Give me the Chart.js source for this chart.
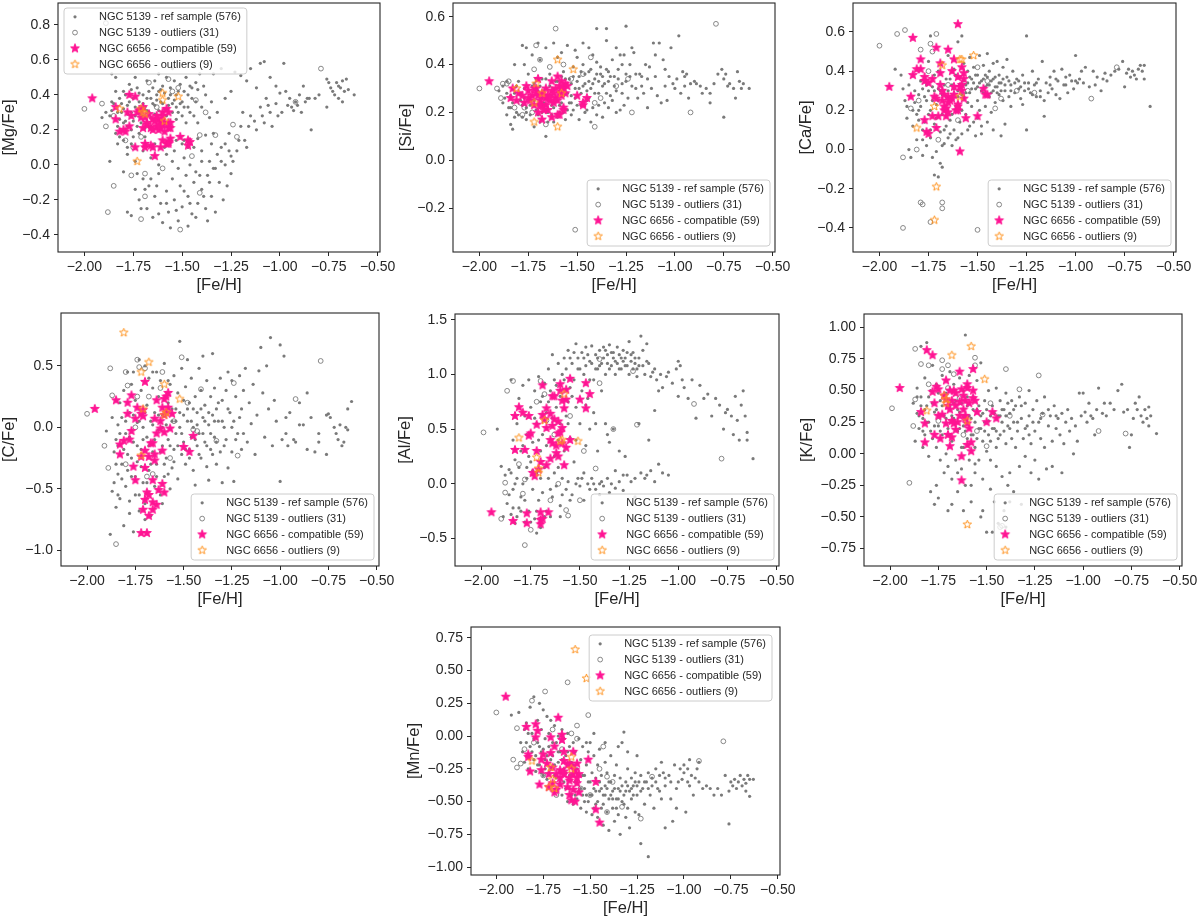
<!DOCTYPE html>
<html>
<head>
<meta charset="utf-8">
<script src="https://cdn.jsdelivr.net/npm/chart.js@4.4.1/dist/chart.umd.min.js"></script>
<style>
  html, body { margin: 0; padding: 0; background: #fff; }
  body { position: relative; width: 1200px; height: 918px; overflow: hidden; }
  .panel { position: absolute; }
</style>
</head>
<body>
<script>
// legend labels, shared by every panel
const seriesNames = [
    'NGC 5139 - ref sample (576)',
    'NGC 5139 - outliers (31)',
    'NGC 6656 - compatible (59)',
    'NGC 6656 - outliers (9)'
];

// tick values
const feTicks = [-2.0, -1.75, -1.5, -1.25, -1.0, -0.75, -0.5];
const mgTicks = [-0.4, -0.2, 0, 0.2, 0.4, 0.6, 0.8];
const siTicks = [-0.2, 0, 0.2, 0.4, 0.6];
const caTicks = [-0.4, -0.2, 0, 0.2, 0.4, 0.6];
const cTicks = [-1.0, -0.5, 0, 0.5];
const alTicks = [-0.5, 0, 0.5, 1.0, 1.5];
const kTicks = [-0.75, -0.5, -0.25, 0, 0.25, 0.5, 0.75, 1.0];
const mnTicks = [-1.0, -0.75, -0.5, -0.25, 0, 0.25, 0.5, 0.75];

// ---- [Mg/Fe] vs [Fe/H] ----
const mgRef = [[-1.87,0.28],[-1.85,0.35],[-1.84,0.50],[-1.83,0.22],[-1.82,0.38],[-1.81,0.30],[-1.80,0.42],[-1.79,0.25],[-1.78,0.34],[-1.77,0.46],[-1.76,0.20],[-1.75,0.38],[-1.74,0.28],[-1.73,0.44],[-1.72,0.36],[-1.71,0.24],[-1.70,0.40],[-1.69,0.33],[-1.68,0.48],[-1.67,0.30],[-1.66,0.38],[-1.65,0.44],[-1.64,0.34],[-1.63,0.40],[-1.62,0.52],[-1.61,0.36],[-1.60,0.45],[-1.59,0.32],[-1.58,0.50],[-1.57,0.38],[-1.56,0.44],[-1.55,0.35],[-1.54,0.48],[-1.53,0.40],[-1.52,0.30],[-1.51,0.46],[-1.50,0.36],[-1.49,0.42],[-1.48,0.50],[-1.47,0.33],[-1.46,0.45],[-1.45,0.38],[-1.44,0.28],[-1.43,0.47],[-1.42,0.43],[-1.40,0.33],[-1.39,0.45],[-1.38,0.40],[-1.41,0.52],[-1.44,0.56],[-1.55,0.55],[-1.64,0.48],[-1.74,0.50],[-1.80,0.32],[-1.86,0.31],[-1.89,0.30],[-1.91,0.27],[-1.82,0.26],[-1.76,0.30],[-1.70,0.28],[-1.66,0.22],[-1.60,0.30],[-1.53,0.26],[-1.48,0.24],[-1.62,0.42],[-1.68,0.38],[-1.72,0.32],[-1.78,0.22],[-1.84,0.18],[-1.80,0.14],[-1.76,0.12],[-1.72,0.18],[-1.86,0.52],
    [-1.83,0.12],[-1.78,0.06],[-1.74,0.02],[-1.70,0.08],[-1.66,0.04],[-1.62,0.00],[-1.58,0.06],[-1.55,0.02],[-1.52,-0.02],[-1.49,0.04],[-1.46,0.00],[-1.43,-0.04],[-1.40,0.02],[-1.37,-0.06],[-1.47,0.10],[-1.42,0.15],[-1.38,0.17],[-1.35,0.12],[-1.32,0.06],[-1.30,0.10],[-1.28,0.00],[-1.33,-0.02],[-1.25,0.05],[-1.50,0.12],[-1.87,0.02],[-1.53,0.14],
    [-1.80,-0.04],[-1.78,-0.27],[-1.76,-0.29],[-1.74,-0.14],[-1.72,-0.20],[-1.70,-0.08],[-1.68,-0.25],[-1.67,-0.12],[-1.65,-0.30],[-1.64,-0.18],[-1.62,-0.05],[-1.61,-0.22],[-1.60,-0.33],[-1.58,-0.15],[-1.57,-0.27],[-1.55,-0.08],[-1.54,-0.20],[-1.52,-0.32],[-1.51,-0.12],[-1.50,-0.24],[-1.48,-0.06],[-1.47,-0.18],[-1.45,-0.28],[-1.44,-0.10],[-1.42,-0.22],[-1.40,-0.14],[-1.38,-0.25],[-1.37,-0.32],[-1.35,-0.18],[-1.33,-0.27],[-1.31,-0.10],[-1.29,-0.20],[-1.27,-0.12],[-1.25,-0.05],[-1.62,-0.28],[-1.56,-0.36],[-1.69,-0.14],[-1.73,-0.05],[-1.47,-0.35],
    [-1.28,0.12],[-1.26,0.18],[-1.24,0.02],[-1.22,0.08],[-1.20,0.22],[-1.18,0.14],[-1.17,0.10],[-1.15,0.28],[-1.13,0.25],[-1.12,0.20],[-1.10,0.33],[-1.08,0.24],[-1.07,0.38],[-1.05,0.30],[-1.04,0.22],[-1.02,0.35],[-1.00,0.41],[-0.99,0.30],[-0.97,0.42],[-0.95,0.38],[-0.94,0.33],[-0.92,0.36],[-0.90,0.40],[-0.88,0.45],[-0.87,0.36],[-0.85,0.38],[-0.84,0.20],[-1.20,0.51],[-1.15,0.55],[-1.10,0.58],[-1.08,0.59],[-1.05,0.50],[-1.02,0.45],[-0.98,0.58],[-0.96,0.34],[-0.93,0.31],[-1.12,0.44],[-1.17,0.48],[-1.23,0.53],[-1.30,0.55],[-1.34,0.52],[-1.28,0.38],[-1.25,0.42],[-1.35,0.36],[-1.32,0.30],[-1.19,0.30],[-1.42,0.24],[-1.36,0.27],
    [-0.76,0.49],[-0.75,0.47],[-0.74,0.44],[-0.73,0.42],[-0.72,0.40],[-0.71,0.47],[-0.70,0.45],[-0.69,0.44],[-0.68,0.48],[-0.67,0.42],[-0.66,0.49],[-0.65,0.43],[-0.62,0.40],[-0.76,0.33],[-0.70,0.38],[-0.68,0.36],[-0.82,0.38],[-0.80,0.40],[-0.86,0.38],
    [-1.86,0.36],[-1.84,0.42],[-1.83,0.30],[-1.81,0.35],[-1.80,0.24],[-1.79,0.40],[-1.78,0.29],[-1.77,0.36],[-1.76,0.43],[-1.75,0.25],[-1.74,0.33],[-1.73,0.22],[-1.72,0.41],[-1.71,0.29],[-1.70,0.35],[-1.69,0.21],[-1.68,0.31],[-1.67,0.42],[-1.66,0.27],[-1.65,0.35],[-1.64,0.29],[-1.63,0.37],[-1.62,0.31],[-1.61,0.43],[-1.60,0.35],[-1.59,0.41],[-1.58,0.28],[-1.57,0.34],[-1.56,0.40],[-1.55,0.30],[-1.54,0.37],[-1.53,0.33],[-1.52,0.42],[-1.51,0.35],[-1.50,0.28],[-1.49,0.33],[-1.47,0.40],[-1.46,0.30],[-1.45,0.44],[-1.43,0.36],[-1.82,0.16],[-1.78,0.10],[-1.75,0.16],[-1.69,0.16],[-1.64,0.12],[-1.59,0.10],[-1.54,0.08],[-1.49,0.14],[-1.44,0.10],[-1.40,0.08],[-1.36,0.02],[-1.34,0.18],[-1.58,-0.22],[-1.53,-0.26],[-1.49,-0.15],[-1.46,-0.22],[-1.43,-0.30],[-1.41,-0.06],[-1.39,-0.18],[-1.36,-0.10],[-1.66,-0.08],[-1.71,-0.25],[-1.63,-0.12],[-1.34,-0.02],[-1.30,0.02],[-1.26,0.08],[-1.21,0.14],[-1.16,0.22],[-1.09,0.28],[-1.06,0.34],[-1.01,0.28],[-0.91,0.34],[-0.89,0.30]];
const mgOut = [[-2.00,0.32],[-1.91,0.35],[-1.89,0.22],[-1.89,0.81],[-1.88,-0.27],[-1.85,-0.12],[-1.79,0.14],[-1.76,-0.06],[-1.71,-0.31],[-1.69,-0.05],[-1.69,-0.18],[-1.57,0.49],[-1.43,0.37],[-1.51,-0.37],[-1.41,-0.16],[-1.41,0.17],[-1.33,0.17],[-1.24,0.23],[-1.22,0.16],[-0.92,0.36],[-0.79,0.55],[-1.67,0.47],[-1.55,0.42],[-1.63,0.33],[-1.75,0.10],[-1.60,-0.02],[-1.45,0.05],[-1.38,0.30],[-1.85,0.28],[-1.71,0.16],[-1.52,0.44]];
const mgStar = [[-1.96,0.38],[-1.84,0.33],[-1.84,0.26],[-1.82,0.19],[-1.79,0.19],[-1.77,0.40],[-1.74,0.39],[-1.78,0.30],[-1.76,0.28],[-1.77,0.22],[-1.74,0.10],[-1.70,0.21],[-1.71,0.31],[-1.71,0.27],[-1.69,0.27],[-1.69,0.12],[-1.69,0.10],[-1.66,0.21],[-1.65,0.26],[-1.65,0.10],[-1.63,0.22],[-1.62,0.26],[-1.64,0.05],[-1.61,0.10],[-1.61,0.21],[-1.61,0.25],[-1.60,0.30],[-1.59,0.24],[-1.58,0.32],[-1.57,0.21],[-1.58,0.12],[-1.57,0.13],[-1.57,0.30],[-1.56,0.21],[-1.56,0.15],[-1.57,0.12],[-1.60,0.14],[-1.51,0.16],[-1.47,0.14],[-1.46,0.13],[-1.47,0.11],[-1.68,0.23],[-1.67,0.29],[-1.72,0.31],[-1.62,0.20],[-1.60,0.23],[-1.64,0.25],[-1.70,0.33],[-1.59,0.19],[-1.66,0.11],[-1.80,0.20],[-1.62,0.22],[-1.57,0.24],[-1.68,0.24],[-1.60,0.28],[-1.73,0.30],[-1.56,0.24],[-1.65,0.20],[-1.63,0.28]];
const mgOdd = [[-1.82,0.32],[-1.73,0.02],[-1.71,0.32],[-1.70,0.30],[-1.69,0.29],[-1.60,0.41],[-1.60,0.37],[-1.59,0.25],[-1.52,0.39]];

// ---- [Si/Fe] vs [Fe/H] ----
const siRef = [[-1.90,0.29],[-1.88,0.31],[-1.87,0.26],[-1.86,0.33],[-1.85,0.22],[-1.84,0.15],[-1.83,0.13],[-1.82,0.28],[-1.81,0.20],[-1.80,0.33],[-1.79,0.25],[-1.78,0.18],[-1.77,0.30],[-1.76,0.22],[-1.75,0.36],[-1.74,0.19],[-1.73,0.27],[-1.72,0.32],[-1.71,0.21],[-1.70,0.29],[-1.69,0.16],[-1.68,0.34],[-1.67,0.24],[-1.66,0.30],[-1.65,0.20],[-1.64,0.36],[-1.63,0.27],[-1.62,0.22],[-1.61,0.33],[-1.60,0.18],[-1.59,0.29],[-1.58,0.24],[-1.57,0.37],[-1.56,0.31],[-1.55,0.21],[-1.54,0.34],[-1.53,0.27],[-1.52,0.39],[-1.51,0.30],[-1.50,0.23],[-1.49,0.35],[-1.48,0.28],[-1.47,0.40],[-1.46,0.32],[-1.45,0.25],[-1.44,0.37],[-1.43,0.30],[-1.42,0.22],[-1.41,0.34],[-1.40,0.41],[-1.39,0.28],[-1.38,0.36],[-1.37,0.31],[-1.36,0.24],[-1.35,0.38],[-1.34,0.33],[-1.33,0.27],[-1.32,0.42],[-1.31,0.35],[-1.30,0.29],[-1.29,0.38],[-1.28,0.21],[-1.27,0.32],[-1.26,0.44],[-1.25,0.36],[-1.24,0.26],[-1.23,0.40],[-1.22,0.31],[-1.21,0.45],[-1.20,0.30],
    [-1.78,0.48],[-1.76,0.47],[-1.73,0.44],[-1.70,0.49],[-1.66,0.47],[-1.62,0.49],[-1.58,0.45],[-1.55,0.48],[-1.51,0.46],[-1.47,0.49],[-1.44,0.47],[-1.40,0.55],[-1.35,0.55],[-1.35,0.50],[-1.30,0.47],[-1.25,0.56],[-1.22,0.47],[-1.28,0.44],[-1.42,0.44],[-1.50,0.43],[-1.60,0.43],[-1.69,0.42],[-1.77,0.40],[-1.82,0.40],
    [-1.76,0.17],[-1.72,0.14],[-1.66,0.10],[-1.62,0.16],[-1.56,0.17],[-1.53,0.19],[-1.49,0.17],[-1.46,0.20],[-1.43,0.16],[-1.40,0.19],[-1.37,0.18],[-1.34,0.22],[-1.30,0.20],[-1.26,0.23],[-1.80,0.19],[-1.84,0.22],[-1.86,0.19],[-1.70,0.19],[-1.65,0.16],[-1.59,0.20],[-1.52,0.21],[-1.48,0.23],[-1.44,0.26],
    [-1.19,0.26],[-1.18,0.36],[-1.16,0.28],[-1.15,0.40],[-1.14,0.22],[-1.12,0.30],[-1.11,0.49],[-1.10,0.35],[-1.09,0.27],[-1.08,0.49],[-1.07,0.24],[-1.06,0.42],[-1.05,0.31],[-1.04,0.25],[-1.03,0.35],[-1.02,0.47],[-1.00,0.30],[-0.99,0.34],[-0.98,0.52],[-0.97,0.28],[-0.96,0.37],[-0.95,0.31],[-0.93,0.26],[-0.92,0.32],[-0.90,0.33],[-0.89,0.32],[-0.87,0.31],[-0.84,0.30],[-0.82,0.28],[-0.80,0.32],[-0.78,0.36],[-0.76,0.38],[-0.75,0.34],[-0.74,0.36],[-0.73,0.31],[-0.72,0.32],[-0.70,0.30],[-0.69,0.26],[-0.68,0.37],[-0.67,0.33],[-0.66,0.30],[-0.65,0.32],[-0.62,0.30],[-0.75,0.18],[-0.82,0.24],[-0.86,0.28],[-0.94,0.36],[-1.01,0.32],[-1.13,0.39],[-1.17,0.35],
    [-1.84,0.27],[-1.83,0.24],[-1.81,0.31],[-1.79,0.28],[-1.78,0.23],[-1.77,0.26],[-1.75,0.29],[-1.74,0.23],[-1.73,0.31],[-1.72,0.25],[-1.71,0.34],[-1.70,0.23],[-1.69,0.31],[-1.68,0.20],[-1.67,0.29],[-1.66,0.34],[-1.65,0.26],[-1.64,0.31],[-1.63,0.23],[-1.62,0.30],[-1.61,0.26],[-1.60,0.33],[-1.59,0.23],[-1.58,0.35],[-1.57,0.27],[-1.56,0.34],[-1.55,0.28],[-1.54,0.24],[-1.53,0.32],[-1.52,0.35],[-1.51,0.26],[-1.50,0.33],[-1.49,0.30],[-1.48,0.37],[-1.47,0.31],[-1.46,0.36],[-1.45,0.29],[-1.44,0.33],[-1.43,0.38],[-1.42,0.32],[-1.41,0.28],[-1.40,0.36],[-1.39,0.33],[-1.38,0.39],[-1.37,0.35],[-1.36,0.32],[-1.35,0.28],[-1.34,0.37],[-1.33,0.35],[-1.31,0.31],[-1.29,0.34],[-1.27,0.28],[-1.25,0.33],[-1.23,0.35],[-1.20,0.36],[-1.17,0.31],[-1.14,0.34],[-1.88,0.24],[-1.86,0.28],[-1.82,0.18],[-1.76,0.20],[-1.68,0.26],[-1.63,0.19],[-1.57,0.20],[-1.53,0.24],[-1.45,0.21],[-1.39,0.23],[-1.32,0.25],[-1.27,0.40],[-1.10,0.44],[-1.05,0.38],[-0.95,0.35]];
const siOut = [[-2.00,0.30],[-1.91,0.30],[-1.89,0.26],[-1.88,0.32],[-1.85,0.33],[-1.86,0.32],[-1.78,0.19],[-1.71,0.48],[-1.69,0.42],[-1.61,0.55],[-1.43,0.43],[-1.41,0.14],[-1.41,0.24],[-1.24,0.34],[-1.22,0.20],[-0.92,0.20],[-0.79,0.57],[-1.51,-0.29],[-1.73,0.20],[-1.79,0.24],[-1.77,0.22],[-1.64,0.39],[-1.53,0.34],[-1.47,0.36],[-1.38,0.26],[-1.30,0.31],[-1.72,0.38],[-1.82,0.22],[-1.66,0.15],[-1.57,0.40]];
const siStar = [[-1.95,0.33],[-1.83,0.30],[-1.84,0.26],[-1.81,0.25],[-1.78,0.27],[-1.76,0.31],[-1.77,0.24],[-1.75,0.29],[-1.73,0.27],[-1.70,0.34],[-1.71,0.30],[-1.70,0.27],[-1.72,0.23],[-1.70,0.20],[-1.68,0.17],[-1.68,0.23],[-1.66,0.23],[-1.66,0.30],[-1.66,0.26],[-1.64,0.25],[-1.63,0.33],[-1.63,0.29],[-1.61,0.26],[-1.63,0.18],[-1.61,0.30],[-1.60,0.35],[-1.59,0.31],[-1.58,0.27],[-1.58,0.33],[-1.57,0.22],[-1.60,0.19],[-1.59,0.19],[-1.57,0.21],[-1.56,0.32],[-1.57,0.30],[-1.55,0.31],[-1.50,0.27],[-1.47,0.23],[-1.45,0.26],[-1.47,0.24],[-1.67,0.27],[-1.65,0.27],[-1.68,0.28],[-1.69,0.25],[-1.62,0.24],[-1.59,0.28],[-1.74,0.25],[-1.80,0.28],[-1.72,0.30],[-1.65,0.21],[-1.62,0.28],[-1.69,0.23],[-1.58,0.30],[-1.64,0.26],[-1.71,0.28],[-1.60,0.25],[-1.67,0.21],[-1.56,0.28],[-1.75,0.26]];
const siOdd = [[-1.81,0.30],[-1.72,0.16],[-1.72,0.24],[-1.71,0.32],[-1.68,0.28],[-1.60,0.42],[-1.60,0.14],[-1.58,0.28],[-1.52,0.38]];

// ---- [Ca/Fe] vs [Fe/H] ----
const caRef = [[-1.92,0.41],[-1.89,0.38],[-1.88,0.31],[-1.87,0.25],[-1.86,0.22],[-1.86,0.16],[-1.85,0.00],[-1.84,-0.04],[-1.83,0.12],[-1.82,0.30],[-1.81,0.05],[-1.80,0.20],[-1.79,0.35],[-1.78,0.10],[-1.78,-0.03],[-1.77,0.27],[-1.76,0.02],[-1.75,0.45],[-1.75,0.18],[-1.74,0.58],[-1.74,0.06],[-1.73,0.32],[-1.73,-0.04],[-1.72,0.13],[-1.72,-0.13],[-1.71,0.23],[-1.71,-0.01],[-1.70,0.40],[-1.70,-0.14],[-1.69,0.09],[-1.69,-0.07],[-1.68,0.28],[-1.68,-0.09],[-1.67,0.03],[-1.67,0.20],[-1.66,0.36],[-1.66,0.12],[-1.65,0.06],[-1.65,0.48],[-1.64,0.25],[-1.64,0.15],[-1.63,0.02],[-1.63,0.33],[-1.62,0.10],[-1.62,0.41],[-1.61,0.22],[-1.61,0.05],[-1.60,0.30],[-1.60,0.55],[-1.59,0.14],[-1.59,0.37],[-1.58,0.58],[-1.58,0.08],[-1.57,0.27],[-1.57,0.44],[-1.56,0.18],[-1.56,0.33],[-1.55,0.40],[-1.55,0.10],[-1.54,0.29],[-1.54,0.47],[-1.53,0.22],[-1.53,0.36],[-1.52,0.14],[-1.52,0.42],[-1.51,0.31],[-1.51,0.07],[-1.50,0.38],[-1.50,0.25],[-1.49,0.48],[-1.49,0.20],[-1.48,0.35],[-1.48,0.12],[-1.47,0.43],[-1.47,0.29],[-1.46,0.38],[-1.46,0.22],[-1.45,0.33],[-1.45,0.49],[-1.44,0.27],[-1.44,0.40],[-1.43,0.35],[-1.43,0.19],[-1.42,0.44],[-1.42,0.30],[-1.41,0.37],[-1.41,0.24],[-1.40,0.32],[-1.40,0.45],[-1.39,0.28],[-1.39,0.38],[-1.38,0.34],[-1.38,0.07],[-1.37,0.42],[-1.37,0.25],[-1.36,0.30],[-1.35,0.37],[-1.35,0.46],[-1.34,0.27],[-1.33,0.33],[-1.32,0.40],[-1.31,0.29],[-1.30,0.36],[-1.29,0.31],[-1.28,0.26],[-1.27,0.38],[-1.26,0.30],[-1.25,0.58],[-1.25,0.10],[-1.24,0.34],[-1.23,0.29],[-1.22,0.40],[-1.21,0.33],[-1.20,0.27],[-1.19,0.36],[-1.18,0.30],[-1.17,0.45],[-1.16,0.25],[-1.15,0.34],[-1.14,0.29],[-1.13,0.37],[-1.12,0.31],[-1.11,0.40],[-1.10,0.28],[-1.09,0.35],[-1.08,0.26],[-1.07,0.41],[-1.06,0.33],[-1.05,0.37],[-1.04,0.29],[-1.03,0.38],[-1.02,0.35],[-1.01,0.31],[-1.00,0.48],[-0.99,0.34],[-0.98,0.36],[-0.97,0.40],[-0.95,0.42],[-0.93,0.32],[-0.91,0.40],[-0.89,0.37],[-0.87,0.30],[-0.85,0.39],[-0.84,0.35],[-0.82,0.38],[-0.80,0.40],[-0.78,0.41],[-0.76,0.45],[-0.75,0.32],[-0.74,0.39],[-0.73,0.41],[-0.72,0.37],[-0.71,0.40],[-0.70,0.38],[-0.69,0.36],[-0.68,0.41],[-0.67,0.43],[-0.66,0.40],[-0.65,0.43],[-0.65,0.36],[-0.62,0.22],[-1.16,0.17],[-1.27,0.23],[-1.36,0.13],[-1.33,0.22],[-1.45,0.14],[-1.50,0.16],[-1.55,0.24],[-1.58,0.20],[-1.63,0.18],[-1.67,0.10],[-1.70,0.31],[-1.72,0.38],[-1.76,0.33],[-1.80,0.15],[-1.84,0.27],
    [-1.85,0.33],[-1.83,0.20],[-1.82,0.24],[-1.81,0.18],[-1.80,0.28],[-1.79,0.22],[-1.78,0.31],[-1.77,0.14],[-1.76,0.25],[-1.75,0.30],[-1.74,0.20],[-1.73,0.25],[-1.72,0.30],[-1.71,0.16],[-1.70,0.25],[-1.69,0.30],[-1.68,0.18],[-1.67,0.33],[-1.66,0.27],[-1.65,0.30],[-1.64,0.36],[-1.63,0.27],[-1.62,0.31],[-1.61,0.38],[-1.60,0.27],[-1.59,0.33],[-1.58,0.28],[-1.57,0.35],[-1.56,0.29],[-1.55,0.34],[-1.54,0.37],[-1.53,0.31],[-1.52,0.34],[-1.51,0.38],[-1.50,0.32],[-1.49,0.34],[-1.48,0.30],[-1.47,0.36],[-1.46,0.32],[-1.45,0.37],[-1.44,0.33],[-1.43,0.29],[-1.42,0.36],[-1.41,0.32],[-1.40,0.29],[-1.39,0.34],[-1.38,0.30],[-1.37,0.36],[-1.36,0.33],[-1.34,0.35],[-1.33,0.30],[-1.31,0.34],[-1.29,0.35],[-1.28,0.32],[-1.26,0.34],[-1.24,0.31],[-1.22,0.28],[-1.20,0.34],[-1.18,0.27],[-1.13,0.33],[-1.10,0.36],[-1.05,0.33],[-1.00,0.35],[-0.96,0.34],[-0.90,0.33],[-0.86,0.36],[-1.78,0.05],[-1.74,0.10],[-1.68,0.02],[-1.64,0.08],[-1.60,0.06],[-1.54,0.12],[-1.48,0.08],[-1.42,0.10]];
const caOut = [[-2.00,0.53],[-1.91,0.59],[-1.87,0.61],[-1.88,-0.04],[-1.88,-0.40],[-1.84,0.21],[-1.81,0.00],[-1.79,0.51],[-1.79,-0.27],[-1.78,-0.28],[-1.74,-0.37],[-1.74,0.54],[-1.73,0.50],[-1.71,0.59],[-1.68,-0.27],[-1.68,-0.30],[-1.50,-0.41],[-1.41,0.21],[-1.21,0.29],[-0.92,0.26],[-0.79,0.42],[-1.75,0.40],[-1.65,0.33],[-1.55,0.30],[-1.60,0.15],[-1.70,0.05],[-1.45,0.35],[-1.80,0.25],[-1.38,0.26],[-1.30,0.30],[-1.50,0.42]];
const caStar = [[-1.95,0.32],[-1.84,0.27],[-1.83,0.38],[-1.83,0.57],[-1.81,0.41],[-1.79,0.46],[-1.79,0.41],[-1.77,0.37],[-1.77,0.35],[-1.75,0.34],[-1.77,0.15],[-1.76,0.09],[-1.75,0.08],[-1.73,0.17],[-1.72,0.27],[-1.71,0.52],[-1.71,0.26],[-1.71,0.11],[-1.69,0.33],[-1.69,0.39],[-1.70,0.17],[-1.68,0.25],[-1.67,0.20],[-1.67,0.22],[-1.66,0.17],[-1.65,0.51],[-1.65,0.27],[-1.63,0.40],[-1.63,0.26],[-1.62,0.32],[-1.61,0.20],[-1.60,0.64],[-1.60,0.37],[-1.60,0.23],[-1.60,0.20],[-1.59,0.32],[-1.59,-0.01],[-1.58,0.42],[-1.58,0.33],[-1.57,0.36],[-1.57,0.26],[-1.57,0.39],[-1.56,0.16],[-1.50,0.17],[-1.47,0.31],[-1.46,0.28],[-1.45,0.28],[-1.67,0.28],[-1.66,0.21],[-1.65,0.24],[-1.64,0.25],[-1.62,0.46],[-1.68,0.30],[-1.73,0.36],[-1.60,0.22],[-1.65,0.19],[-1.62,0.28],[-1.69,0.44],[-1.58,0.30]];
const caOdd = [[-1.81,0.11],[-1.72,0.22],[-1.71,-0.19],[-1.72,-0.36],[-1.68,0.43],[-1.59,0.46],[-1.58,0.46],[-1.59,0.27],[-1.52,0.48]];

// ---- [C/Fe] vs [Fe/H] ----
const cRef = [[-1.90,-0.03],[-1.88,-0.87],[-1.87,-0.52],[-1.87,0.08],[-1.86,-0.45],[-1.85,-0.10],[-1.85,-0.65],[-1.84,0.02],[-1.84,-0.38],[-1.83,0.20],[-1.83,-0.58],[-1.82,0.08],[-1.82,-0.30],[-1.81,-0.80],[-1.81,0.30],[-1.80,-0.05],[-1.80,-0.48],[-1.79,0.45],[-1.79,-0.22],[-1.78,0.12],[-1.78,-0.70],[-1.77,-0.40],[-1.77,0.35],[-1.76,-0.12],[-1.76,-0.85],[-1.75,0.22],[-1.75,-0.55],[-1.74,0.04],[-1.74,-0.28],[-1.73,0.55],[-1.73,-0.68],[-1.72,-0.18],[-1.72,0.30],[-1.71,-0.45],[-1.71,0.00],[-1.70,0.50],[-1.70,-0.62],[-1.69,-0.08],[-1.69,0.18],[-1.68,-0.35],[-1.68,0.40],[-1.67,-0.72],[-1.67,0.05],[-1.66,-0.20],[-1.66,0.32],[-1.65,-0.48],[-1.65,0.12],[-1.64,0.45],[-1.64,-0.30],[-1.63,-0.02],[-1.63,0.25],[-1.62,-0.55],[-1.62,0.38],[-1.61,-0.15],[-1.61,0.10],[-1.60,0.52],[-1.60,-0.40],[-1.59,0.02],[-1.59,-0.25],[-1.58,0.20],[-1.58,-0.10],[-1.57,0.35],[-1.57,-0.50],[-1.56,0.05],[-1.56,-0.33],[-1.55,0.42],[-1.55,-0.18],[-1.54,0.15],[-1.54,-0.05],[-1.53,0.28],[-1.53,-0.42],[-1.52,0.70],[-1.52,0.00],[-1.51,-0.22],[-1.51,0.48],[-1.50,0.10],[-1.50,-0.12],[-1.49,0.33],[-1.49,-0.30],[-1.48,0.05],[-1.48,0.55],[-1.47,-0.18],[-1.47,0.20],[-1.46,-0.08],[-1.46,0.40],[-1.45,0.00],[-1.45,-0.35],[-1.44,0.25],[-1.44,-0.47],[-1.43,0.12],[-1.43,-0.15],[-1.42,0.48],[-1.42,-0.05],[-1.41,0.30],[-1.41,-0.25],[-1.40,0.08],[-1.40,0.58],[-1.39,-0.12],[-1.39,0.18],[-1.38,0.38],[-1.38,-0.32],[-1.37,0.02],[-1.37,-0.43],[-1.36,0.25],[-1.36,-0.18],[-1.35,0.10],[-1.35,0.60],[-1.34,-0.08],[-1.34,0.32],[-1.33,0.15],[-1.33,-0.30],[-1.32,0.05],[-1.31,0.40],[-1.31,-0.20],[-1.30,0.22],[-1.30,-0.45],[-1.29,0.00],[-1.28,0.30],[-1.28,-0.10],[-1.27,0.45],[-1.27,-0.33],[-1.26,0.12],[-1.25,-0.20],[-1.25,0.38],[-1.24,-0.44],[-1.24,0.05],[-1.23,0.25],[-1.22,-0.05],[-1.21,0.42],[-1.20,0.15],[-1.20,-0.18],[-1.19,0.30],[-1.18,0.48],[-1.17,-0.12],[-1.16,0.20],[-1.15,0.03],[-1.14,0.35],[-1.13,-0.22],[-1.12,0.10],[-1.11,0.46],[-1.10,0.65],[-1.09,0.28],[-1.08,-0.08],[-1.07,0.50],[-1.06,0.15],[-1.05,0.73],[-1.04,-0.15],[-1.03,0.22],[-1.02,0.05],[-1.00,0.67],[-1.00,-0.44],[-0.99,-0.10],[-0.98,0.58],[-0.97,-0.05],[-0.96,-0.15],[-0.95,0.12],[-0.93,-0.10],[-0.92,-0.12],[-0.90,0.02],[-0.88,0.02],[-0.86,-0.18],[-0.84,0.08],[-0.82,-0.20],[-0.80,-0.05],[-0.76,0.10],[-0.75,0.11],[-0.74,0.08],[-0.72,0.00],[-0.71,-0.05],[-0.70,-0.10],[-0.69,0.02],[-0.68,-0.15],[-0.67,-0.12],[-0.66,0.00],[-0.65,0.15],[-0.65,-0.02],[-0.63,0.21],[-0.76,-0.22],[-0.80,-0.12],[-0.86,0.28],[-0.90,0.20],[-0.97,0.08],
    [-1.86,-0.20],[-1.85,-0.30],[-1.84,-0.15],[-1.83,-0.05],[-1.82,-0.42],[-1.81,-0.18],[-1.80,0.05],[-1.79,-0.35],[-1.78,-0.08],[-1.77,-0.25],[-1.76,0.10],[-1.75,-0.40],[-1.74,-0.15],[-1.73,0.05],[-1.72,-0.32],[-1.71,-0.10],[-1.70,0.12],[-1.69,-0.45],[-1.68,-0.15],[-1.67,-0.30],[-1.66,0.02],[-1.65,-0.10],[-1.64,-0.40],[-1.63,0.10],[-1.62,-0.20],[-1.61,0.00],[-1.60,-0.30],[-1.59,0.12],[-1.58,-0.38],[-1.57,-0.15],[-1.56,0.15],[-1.55,-0.28],[-1.54,0.05],[-1.53,-0.15],[-1.52,0.12],[-1.51,-0.05],[-1.50,0.22],[-1.49,-0.18],[-1.48,0.15],[-1.47,-0.25],[-1.46,0.05],[-1.45,0.15],[-1.44,-0.10],[-1.43,0.02],[-1.42,-0.22],[-1.41,0.15],[-1.40,-0.05],[-1.39,0.05],[-1.38,-0.15],[-1.37,0.12],[-1.36,-0.05],[-1.35,-0.22],[-1.34,0.05],[-1.33,-0.12],[-1.32,0.20],[-1.30,0.05],[-1.29,-0.15],[-1.27,0.15],[-1.25,0.00],[-1.23,-0.10],[-1.21,0.08],[-1.19,-0.05],[-1.76,0.45],[-1.66,0.45],[-1.58,0.38],[-1.73,-0.55],[-1.78,-0.60],[-1.84,-0.55],[-1.61,-0.62],[-1.70,-0.75]];
const cOut = [[-2.00,0.11],[-1.91,-0.15],[-1.89,-0.33],[-1.88,0.48],[-1.87,0.26],[-1.85,-0.95],[-1.80,0.45],[-1.79,0.34],[-1.74,0.25],[-1.73,0.49],[-1.70,0.48],[-1.69,-0.40],[-1.61,0.45],[-1.51,0.57],[-1.45,-0.02],[-1.43,-0.03],[-1.41,0.31],[-1.33,-0.11],[-1.24,0.36],[-1.22,-0.23],[-0.92,0.23],[-0.79,0.54],[-1.57,-0.25],[-1.74,0.55],[-1.68,0.25],[-1.75,0.00],[-1.62,0.32],[-1.55,0.05],[-1.80,-0.30],[-1.48,0.20],[-1.66,-0.38]];
const cStar = [[-1.96,0.15],[-1.85,0.22],[-1.83,-0.14],[-1.83,-0.22],[-1.81,-0.11],[-1.79,0.20],[-1.79,0.11],[-1.77,0.26],[-1.77,-0.03],[-1.78,-0.10],[-1.76,-0.32],[-1.75,0.07],[-1.74,0.16],[-1.72,0.11],[-1.71,0.09],[-1.71,-0.67],[-1.72,-0.86],[-1.70,0.37],[-1.70,-0.33],[-1.70,-0.19],[-1.70,-0.59],[-1.69,-0.86],[-1.69,-0.53],[-1.68,-0.55],[-1.68,-0.72],[-1.67,-0.13],[-1.66,-0.13],[-1.66,-0.67],[-1.66,-0.61],[-1.65,0.07],[-1.65,-0.22],[-1.65,-0.27],[-1.64,-0.63],[-1.64,0.22],[-1.63,-0.51],[-1.62,-0.01],[-1.61,-0.19],[-1.61,-0.46],[-1.61,0.16],[-1.60,0.23],[-1.60,-0.04],[-1.60,-0.53],[-1.59,0.25],[-1.59,0.12],[-1.58,0.16],[-1.58,0.28],[-1.57,-0.01],[-1.56,0.11],[-1.50,-0.16],[-1.47,-0.20],[-1.45,-0.07],[-1.60,0.10],[-1.64,-0.05],[-1.68,-0.24],[-1.72,-0.24],[-1.71,0.14],[-1.66,-0.43],[-1.75,-0.43],[-1.62,0.05]];
const cOdd = [[-1.81,0.77],[-1.68,0.53],[-1.72,0.45],[-1.60,0.35],[-1.52,0.23],[-1.71,0.15],[-1.72,-0.23],[-1.59,0.12],[-1.60,0.10]];

// ---- [Al/Fe] vs [Fe/H] ----
const alRef = [[-1.92,0.50],[-1.90,0.16],[-1.89,-0.30],[-1.88,0.08],[-1.87,-0.18],[-1.86,0.13],[-1.85,-0.28],[-1.85,0.95],[-1.84,0.40],[-1.84,-0.05],[-1.83,0.22],[-1.83,-0.36],[-1.82,0.55],[-1.82,0.05],[-1.81,0.78],[-1.81,-0.22],[-1.80,0.30],[-1.80,-0.12],[-1.79,0.90],[-1.79,0.00],[-1.78,0.62],[-1.78,-0.35],[-1.77,0.15],[-1.77,0.45],[-1.76,0.95],[-1.76,-0.25],[-1.75,0.20],[-1.75,0.70],[-1.74,-0.05],[-1.74,0.38],[-1.73,0.85],[-1.73,-0.32],[-1.72,0.55],[-1.72,0.10],[-1.71,-0.15],[-1.71,0.98],[-1.70,0.30],[-1.70,0.75],[-1.69,-0.08],[-1.69,0.45],[-1.68,0.15],[-1.68,0.92],[-1.67,-0.25],[-1.67,0.65],[-1.66,1.05],[-1.66,0.05],[-1.65,0.40],[-1.65,0.85],[-1.64,-0.12],[-1.64,1.18],[-1.63,0.25],[-1.63,0.95],[-1.62,-0.02],[-1.62,0.70],[-1.61,1.10],[-1.61,0.15],[-1.60,-0.20],[-1.60,0.55],[-1.59,1.00],[-1.59,0.05],
    [-1.58,1.15],[-1.58,0.30],[-1.57,-0.05],[-1.57,0.62],[-1.56,1.22],[-1.56,0.02],[-1.55,0.88],[-1.55,0.42],[-1.54,1.10],[-1.54,-0.10],[-1.53,0.95],[-1.53,0.20],[-1.52,1.28],[-1.52,0.70],[-1.51,0.05],[-1.51,1.05],[-1.50,0.55],[-1.50,-0.02],[-1.49,1.20],[-1.49,0.85],[-1.48,0.10],[-1.48,1.00],[-1.47,0.35],[-1.47,1.25],[-1.46,0.00],[-1.46,0.78],[-1.45,1.12],[-1.45,0.50],[-1.44,1.26],[-1.44,0.05],[-1.43,0.95],[-1.43,0.65],[-1.42,1.18],[-1.42,-0.05],[-1.41,1.05],[-1.41,0.30],[-1.40,1.22],[-1.40,0.00],[-1.39,1.10],[-1.39,0.85],[-1.38,1.25],[-1.38,-0.02],[-1.37,1.00],[-1.37,0.55],[-1.36,1.18],[-1.36,0.05],[-1.35,1.27],[-1.35,0.38],[-1.34,1.08],[-1.34,0.00],[-1.33,1.20],[-1.33,0.50],[-1.32,1.12],[-1.32,-0.04],[-1.31,1.25],[-1.30,1.05],[-1.30,0.02],[-1.29,1.15],[-1.28,1.22],[-1.28,-0.06],[-1.27,1.08],[-1.26,1.20],[-1.26,0.08],[-1.25,1.30],[-1.25,1.00],[-1.24,1.12],[-1.24,0.02],[-1.23,1.05],[-1.22,1.15],[-1.22,-0.12],[-1.21,0.98],[-1.20,0.55],[-1.20,1.08],[-1.19,1.35],[-1.19,0.10],[-1.18,1.22],[-1.17,1.00],[-1.17,0.05],[-1.16,1.28],[-1.15,1.10],[-1.14,0.98],[-1.14,0.12],[-1.12,1.05],[-1.11,0.95],[-1.10,0.18],[-1.10,0.85],[-1.09,1.00],[-1.08,0.10],[-1.08,0.88],[-1.06,0.98],[-1.05,0.08],[-1.05,1.02],[-1.03,0.92],[-1.01,1.05],[-1.00,0.80],[-1.00,1.12],[-0.99,1.08],[-0.98,0.95],[-0.97,0.88],[-0.95,0.78],[-0.93,0.95],[-0.91,0.60],[-0.89,0.90],[-0.87,0.78],[-0.85,0.82],[-0.83,0.62],[-0.81,0.78],[-0.79,0.72],[-0.77,0.50],[-0.76,0.65],[-0.75,0.68],[-0.73,0.62],[-0.72,0.45],[-0.71,0.80],[-0.70,0.58],[-0.69,0.40],[-0.68,0.72],[-0.67,0.85],[-0.66,0.62],[-0.65,0.47],[-0.65,0.40],[-0.62,0.23],[-1.12,0.67],[-1.15,0.40],[-1.30,0.30],[-1.27,0.25],[-1.36,0.45],[-1.42,0.55],[-1.52,0.40],[-1.56,0.75],[-1.47,0.72],
    [-1.45,-0.05],[-1.40,-0.10],[-1.35,-0.08],[-1.48,-0.15],[-1.55,-0.15],[-1.60,-0.30],[-1.65,-0.30],[-1.70,-0.40],[-1.72,-0.45],
    [-1.86,-0.10],[-1.85,0.10],[-1.84,-0.22],[-1.83,0.00],[-1.82,-0.30],[-1.81,0.15],[-1.80,-0.25],[-1.79,0.35],[-1.78,-0.15],[-1.77,0.05],[-1.76,0.25],[-1.75,-0.35],[-1.74,0.12],[-1.73,0.60],[-1.72,-0.25],[-1.71,0.40],[-1.70,0.05],[-1.69,0.80],[-1.68,-0.30],[-1.67,0.35],[-1.66,0.75],[-1.65,-0.05],[-1.64,0.60],[-1.63,0.10],[-1.62,0.90],[-1.61,0.40],[-1.60,0.80],[-1.59,-0.10],[-1.58,0.95],[-1.57,1.05],[-1.56,0.55],[-1.55,1.15],[-1.54,0.80],[-1.53,1.20],[-1.52,0.00],[-1.51,1.15],[-1.50,1.05],[-1.49,0.05],[-1.48,1.15],[-1.47,1.08],[-1.46,1.18],[-1.45,0.95],[-1.44,1.10],[-1.43,0.00],[-1.42,1.05],[-1.41,1.15],[-1.40,1.08],[-1.39,0.02],[-1.38,1.15],[-1.37,1.22],[-1.36,1.10],[-1.35,1.05],[-1.34,1.20],[-1.33,1.15],[-1.32,1.00],[-1.31,1.10],[-1.30,1.18],[-1.29,1.05],[-1.28,1.12],[-1.27,1.15],[-1.26,1.08],[-1.24,1.18],[-1.23,1.20],[-1.22,1.10],[-1.21,1.05],[-1.20,1.15],[-1.18,1.08],[-1.16,1.12],[-1.13,1.02],[-1.32,0.12],[-1.28,0.08],[-1.22,0.05],[-1.16,0.08],[-1.12,0.02]];
const alOut = [[-1.99,0.47],[-1.88,0.01],[-1.88,-0.08],[-1.87,0.85],[-1.90,-0.32],[-1.84,0.94],[-1.81,0.18],[-1.79,-0.09],[-1.78,0.04],[-1.78,-0.56],[-1.75,-0.42],[-1.70,0.94],[-1.68,0.82],[-1.67,0.58],[-1.65,-0.15],[-1.61,0.00],[-1.57,-0.24],[-1.56,-0.29],[-1.50,-0.15],[-1.42,0.14],[-1.40,0.92],[-1.40,1.14],[-1.33,0.50],[-1.23,1.03],[-1.21,0.54],[-0.92,0.73],[-0.78,0.23],[-1.63,0.45],[-1.72,0.75],[-1.55,0.62],[-1.48,0.30]];
const alStar = [[-1.95,-0.26],[-1.84,-0.34],[-1.83,0.62],[-1.83,0.31],[-1.81,0.70],[-1.79,0.65],[-1.78,0.31],[-1.77,-0.27],[-1.77,-0.36],[-1.76,0.62],[-1.76,0.44],[-1.75,0.46],[-1.74,0.10],[-1.72,0.54],[-1.72,0.30],[-1.71,0.13],[-1.70,-0.26],[-1.70,-0.33],[-1.70,-0.37],[-1.70,0.20],[-1.69,0.63],[-1.69,0.90],[-1.69,-0.32],[-1.68,0.59],[-1.67,0.51],[-1.67,0.17],[-1.67,0.69],[-1.66,-0.26],[-1.65,0.23],[-1.65,0.64],[-1.64,0.80],[-1.64,0.53],[-1.64,0.37],[-1.63,0.59],[-1.63,0.80],[-1.62,0.35],[-1.62,0.28],[-1.61,0.25],[-1.61,0.57],[-1.60,0.91],[-1.60,0.85],[-1.60,0.47],[-1.59,0.76],[-1.59,0.37],[-1.59,0.51],[-1.58,0.17],[-1.58,0.69],[-1.57,0.86],[-1.57,0.33],[-1.57,0.77],[-1.55,0.40],[-1.55,0.96],[-1.50,0.77],[-1.47,0.69],[-1.47,0.92],[-1.45,0.82],[-1.73,0.07],[-1.61,0.46],[-1.65,0.40]];
const alOdd = [[-1.81,0.42],[-1.72,0.24],[-1.71,0.14],[-1.71,0.10],[-1.68,0.58],[-1.60,0.39],[-1.59,0.40],[-1.58,0.82],[-1.51,0.39]];

// ---- [K/Fe] vs [Fe/H] ----
const kRef = [[-1.88,0.40],[-1.87,0.10],[-1.86,0.52],[-1.86,0.32],[-1.85,0.20],[-1.84,0.85],[-1.84,0.45],[-1.83,0.05],[-1.83,0.28],[-1.82,0.60],[-1.82,0.15],[-1.81,0.88],[-1.81,0.38],[-1.80,-0.02],[-1.80,0.25],[-1.79,0.50],[-1.79,-0.30],[-1.78,0.12],[-1.78,0.70],[-1.77,0.33],[-1.77,-0.40],[-1.76,0.55],[-1.76,0.05],[-1.75,0.22],[-1.75,-0.35],[-1.74,0.42],[-1.74,-0.05],[-1.73,0.62],[-1.73,0.15],[-1.72,0.30],[-1.72,-0.15],[-1.71,0.48],[-1.71,0.00],[-1.70,0.20],[-1.70,-0.45],[-1.69,0.65],[-1.69,0.38],[-1.68,0.10],[-1.68,-0.20],[-1.67,0.28],[-1.67,0.55],[-1.66,-0.05],[-1.66,0.42],[-1.65,0.18],[-1.65,-0.30],[-1.64,0.60],[-1.64,0.33],[-1.63,0.05],[-1.63,-0.12],[-1.62,0.50],[-1.62,0.22],[-1.61,0.94],[-1.61,-0.25],[-1.60,0.38],[-1.60,0.12],[-1.59,0.62],[-1.59,-0.05],[-1.58,0.28],[-1.58,-0.38],[-1.57,0.45],[-1.57,0.15],[-1.56,0.05],[-1.56,-0.15],[-1.55,0.35],[-1.55,0.58],[-1.54,0.20],[-1.54,-0.05],[-1.53,0.72],[-1.53,0.30],[-1.52,0.10],[-1.52,-0.45],[-1.51,0.42],[-1.51,0.18],[-1.50,0.02],[-1.50,-0.62],[-1.49,0.50],[-1.49,0.26],[-1.48,0.10],[-1.48,-0.28],[-1.47,0.38],[-1.46,0.20],[-1.46,-0.38],[-1.45,0.52],[-1.45,0.05],[-1.44,0.30],[-1.44,-0.55],[-1.43,0.15],[-1.43,0.42],[-1.42,-0.18],[-1.42,0.25],[-1.41,0.35],[-1.41,-0.45],[-1.40,0.08],[-1.40,0.48],[-1.39,0.22],[-1.39,-0.25],[-1.38,0.32],[-1.38,-0.38],[-1.37,0.12],[-1.37,0.42],[-1.36,0.25],[-1.36,-0.30],[-1.35,0.05],[-1.35,0.38],[-1.34,0.18],[-1.33,0.45],[-1.33,-0.10],[-1.32,0.28],[-1.31,0.12],[-1.30,0.40],[-1.30,-0.02],[-1.29,0.22],[-1.28,0.50],[-1.28,0.30],[-1.27,0.08],[-1.26,0.35],[-1.25,0.18],[-1.25,-0.05],[-1.24,0.42],[-1.23,0.25],[-1.22,0.12],[-1.21,0.32],[-1.20,0.45],[-1.20,0.05],[-1.19,-0.12],[-1.18,0.22],[-1.17,0.30],[-1.16,0.10],[-1.15,0.38],[-1.14,0.20],[-1.13,0.28],[-1.12,0.15],[-1.11,0.32],[-1.10,0.08],[-1.09,0.25],[-1.08,0.35],[-1.07,0.18],[-1.06,0.28],[-1.05,0.00],[-1.04,0.22],[-1.03,0.10],[-1.02,0.48],[-1.01,0.30],[-1.00,0.48],[-0.99,0.33],[-0.98,0.25],[-0.97,0.40],[-0.96,0.30],[-0.95,0.28],[-0.94,0.15],[-0.93,0.35],[-0.92,0.52],[-0.90,0.32],[-0.89,0.40],[-0.88,0.30],[-0.86,0.40],[-0.84,0.35],[-0.82,0.50],[-0.80,0.55],[-0.79,0.33],[-0.77,0.35],[-0.76,0.05],[-0.75,0.15],[-0.74,0.28],[-0.73,0.40],[-0.72,0.35],[-0.71,0.45],[-0.70,0.30],[-0.69,0.25],[-0.68,0.35],[-0.67,0.28],[-0.66,0.37],[-0.66,0.22],[-0.65,0.30],[-0.62,0.16],[-1.27,-0.15],[-1.23,-0.20],[-1.32,-0.40],[-1.40,-0.58],[-1.47,-0.62],[-1.53,-0.50],[-1.62,-0.45],[-1.68,-0.40],[-1.16,-0.10],[-1.11,-0.15],
    [-1.86,0.45],[-1.85,0.30],[-1.84,0.38],[-1.83,0.18],[-1.82,0.35],[-1.81,0.25],[-1.80,0.45],[-1.79,0.18],[-1.78,0.40],[-1.77,0.22],[-1.76,0.35],[-1.75,0.48],[-1.74,0.18],[-1.73,0.38],[-1.72,0.45],[-1.71,0.28],[-1.70,0.38],[-1.69,0.15],[-1.68,0.30],[-1.67,0.40],[-1.66,0.25],[-1.65,0.35],[-1.64,0.20],[-1.63,0.40],[-1.62,0.30],[-1.61,0.18],[-1.60,0.45],[-1.59,0.30],[-1.58,0.15],[-1.57,0.35],[-1.56,0.25],[-1.55,0.12],[-1.54,0.38],[-1.53,0.20],[-1.52,0.32],[-1.51,0.25],[-1.50,0.35],[-1.49,0.15],[-1.48,0.30],[-1.47,0.20],[-1.46,0.32],[-1.45,0.18],[-1.44,0.12],[-1.43,0.30],[-1.42,0.35],[-1.41,0.18],[-1.40,0.30],[-1.39,0.40],[-1.38,0.20],[-1.36,0.35],[-1.34,0.25],[-1.32,0.38],[-1.30,0.20],[-1.28,0.15],[-1.26,0.25],[-1.22,0.28],[-1.18,0.35],[-1.14,0.30],[-1.70,-0.10],[-1.65,-0.15],[-1.58,-0.25],[-1.52,-0.20],[-1.45,-0.10],[-1.38,-0.15],[-1.76,-0.25],[-1.62,0.05],[-1.56,-0.08],[-1.48,-0.05]];
const kOut = [[-1.99,0.36],[-1.90,-0.23],[-1.88,0.22],[-1.87,0.43],[-1.87,0.83],[-1.84,0.71],[-1.80,0.70],[-1.73,0.74],[-1.73,0.67],[-1.70,0.70],[-1.67,0.63],[-1.56,0.76],[-1.56,0.70],[-1.50,0.06],[-1.40,0.67],[-1.42,-0.57],[-1.43,-0.58],[-1.33,0.51],[-1.23,0.62],[-1.21,0.31],[-0.92,0.18],[-0.78,0.16],[-1.75,0.26],[-1.64,0.44],[-1.55,0.18],[-1.48,0.40],[-1.80,0.55],[-1.62,0.15],[-1.70,0.52],[-1.38,0.30]];
const kStar = [[-1.95,0.52],[-1.84,0.33],[-1.82,0.24],[-1.82,0.09],[-1.81,0.82],[-1.78,0.78],[-1.78,0.49],[-1.77,0.40],[-1.77,0.15],[-1.76,0.53],[-1.75,0.30],[-1.75,0.51],[-1.74,0.12],[-1.72,0.46],[-1.71,0.58],[-1.71,0.24],[-1.70,0.15],[-1.70,0.38],[-1.69,0.35],[-1.69,0.06],[-1.68,0.13],[-1.68,0.26],[-1.67,0.50],[-1.67,0.24],[-1.66,0.48],[-1.65,0.25],[-1.64,0.41],[-1.64,0.65],[-1.63,-0.21],[-1.63,0.51],[-1.63,-0.02],[-1.62,0.46],[-1.61,0.30],[-1.61,0.28],[-1.60,0.52],[-1.60,0.07],[-1.60,0.55],[-1.59,0.40],[-1.59,0.20],[-1.58,0.09],[-1.58,0.02],[-1.57,0.50],[-1.57,0.67],[-1.57,0.44],[-1.56,0.42],[-1.55,0.33],[-1.50,0.25],[-1.47,0.33],[-1.45,0.28],[-1.64,0.30],[-1.66,0.38],[-1.61,0.42],[-1.68,0.42],[-1.73,0.31],[-1.60,0.24],[-1.66,0.19],[-1.71,0.43],[-1.62,0.35],[-1.69,0.50]];
const kOdd = [[-1.81,0.34],[-1.72,0.46],[-1.71,0.43],[-1.71,0.40],[-1.68,0.78],[-1.60,0.26],[-1.60,-0.56],[-1.58,0.85],[-1.51,0.59]];

// ---- [Mn/Fe] vs [Fe/H] ----
const mnRef = [[-1.92,0.16],[-1.88,0.18],[-1.87,-0.05],[-1.86,-0.12],[-1.85,0.05],[-1.85,-0.20],[-1.84,0.10],[-1.83,-0.25],[-1.82,0.22],[-1.82,-0.08],[-1.81,0.02],[-1.80,-0.18],[-1.80,0.30],[-1.79,-0.27],[-1.78,0.12],[-1.78,-0.05],[-1.77,0.25],[-1.77,-0.22],[-1.76,-0.12],[-1.76,0.05],[-1.75,-0.30],[-1.75,0.20],[-1.74,-0.02],[-1.74,-0.18],[-1.73,0.15],[-1.73,-0.33],[-1.72,-0.08],[-1.72,0.02],[-1.71,-0.25],[-1.71,0.12],[-1.70,-0.38],[-1.70,-0.15],[-1.69,0.08],[-1.69,-0.30],[-1.68,-0.05],[-1.68,-0.42],[-1.67,-0.20],[-1.67,0.00],[-1.66,-0.35],[-1.66,-0.12],[-1.65,0.05],[-1.65,-0.45],[-1.64,-0.25],[-1.64,-0.02],[-1.63,-0.40],[-1.63,-0.15],[-1.62,0.02],[-1.62,-0.50],[-1.61,-0.30],[-1.61,-0.08],[-1.60,-0.45],[-1.60,-0.20],[-1.59,-0.05],[-1.59,-0.52],[-1.58,-0.35],[-1.58,-0.12],[-1.57,-0.48],[-1.57,-0.25],[-1.56,-0.02],[-1.56,-0.42],[-1.55,-0.55],[-1.55,-0.18],[-1.54,-0.30],[-1.54,-0.08],[-1.53,-0.50],[-1.53,-0.40],[-1.52,-0.22],[-1.52,-0.58],[-1.51,-0.12],[-1.51,-0.35],[-1.50,-0.45],[-1.50,-0.05],[-1.49,-0.28],[-1.49,-0.60],[-1.48,-0.40],[-1.48,-0.15],[-1.47,-0.52],[-1.47,-0.32],[-1.46,-0.22],[-1.46,-0.62],[-1.45,-0.42],[-1.45,-0.10],[-1.44,-0.55],[-1.44,-0.30],[-1.43,-0.45],[-1.43,-0.68],[-1.42,-0.20],[-1.42,-0.38],[-1.41,-0.58],[-1.41,-0.28],[-1.40,-0.48],[-1.40,-0.72],[-1.39,-0.35],[-1.39,-0.15],[-1.38,-0.55],[-1.38,-0.42],[-1.37,-0.30],[-1.37,-0.65],[-1.36,-0.48],[-1.36,-0.22],[-1.35,-0.40],[-1.35,-0.60],[-1.34,-0.32],[-1.34,-0.75],[-1.33,-0.50],[-1.33,-0.05],[-1.32,0.03],[-1.32,-0.45],[-1.31,-0.35],[-1.31,-0.62],[-1.30,-0.25],[-1.30,-0.55],[-1.29,-0.42],[-1.29,-0.70],[-1.28,-0.32],[-1.28,-0.48],[-1.27,-0.38],[-1.26,-0.58],[-1.26,-0.28],[-1.25,-0.45],[-1.24,-0.35],[-1.24,-0.60],[-1.23,-0.82],[-1.23,-0.30],[-1.22,-0.40],[-1.21,-0.52],[-1.20,-0.35],[-1.19,-0.92],[-1.19,-0.28],[-1.18,-0.45],[-1.17,-0.32],[-1.16,-0.55],[-1.15,-0.25],[-1.14,-0.40],[-1.13,-0.30],[-1.12,-0.48],[-1.11,-0.28],[-1.10,-0.70],[-1.10,-0.38],[-1.08,-0.30],[-1.07,-0.48],[-1.06,-0.65],[-1.05,-0.22],[-1.04,-0.55],[-1.03,-0.35],[-1.02,-0.25],[-1.00,-0.28],[-0.99,-0.58],[-0.98,-0.25],[-0.97,-0.38],[-0.96,-0.30],[-0.95,-0.45],[-0.93,-0.25],[-0.92,-0.35],[-0.90,-0.40],[-0.88,-0.38],[-0.86,-0.40],[-0.84,-0.45],[-0.82,-0.40],[-0.80,-0.45],[-0.78,-0.30],[-0.76,-0.67],[-0.76,-0.42],[-0.75,-0.35],[-0.74,-0.38],[-0.73,-0.33],[-0.72,-0.40],[-0.71,-0.35],[-0.70,-0.30],[-0.69,-0.38],[-0.68,-0.33],[-0.67,-0.42],[-0.67,-0.36],[-0.66,-0.30],[-0.65,-0.46],[-0.65,-0.33],[-0.63,-0.33],[-0.92,-0.20],[-0.97,-0.18],[-1.00,-0.22],[-1.12,-0.20],[-1.25,-0.15],[-1.35,-0.08],[-1.42,-0.05],[-1.48,0.02],[-1.52,-0.05],[-1.30,-0.12],
    [-1.84,-0.05],[-1.83,0.02],[-1.81,-0.12],[-1.80,-0.02],[-1.79,-0.15],[-1.78,-0.22],[-1.77,-0.08],[-1.76,-0.28],[-1.75,-0.10],[-1.74,-0.25],[-1.73,-0.15],[-1.72,-0.28],[-1.71,-0.18],[-1.70,-0.05],[-1.69,-0.22],[-1.68,-0.32],[-1.67,-0.12],[-1.66,-0.28],[-1.65,-0.18],[-1.64,-0.35],[-1.63,-0.28],[-1.62,-0.12],[-1.61,-0.40],[-1.60,-0.30],[-1.59,-0.22],[-1.58,-0.45],[-1.57,-0.35],[-1.56,-0.30],[-1.55,-0.40],[-1.54,-0.45],[-1.53,-0.30],[-1.52,-0.45],[-1.51,-0.50],[-1.50,-0.35],[-1.49,-0.45],[-1.48,-0.55],[-1.47,-0.42],[-1.46,-0.50],[-1.45,-0.35],[-1.44,-0.40],[-1.43,-0.52],[-1.42,-0.45],[-1.41,-0.40],[-1.40,-0.35],[-1.39,-0.45],[-1.38,-0.48],[-1.37,-0.40],[-1.36,-0.55],[-1.35,-0.48],[-1.34,-0.42],[-1.33,-0.38],[-1.32,-0.52],[-1.31,-0.42],[-1.30,-0.38],[-1.28,-0.40],[-1.27,-0.45],[-1.26,-0.35],[-1.25,-0.38],[-1.23,-0.42],[-1.21,-0.35],[-1.19,-0.40],[-1.17,-0.38],[-1.15,-0.35],[-1.13,-0.42],[-1.10,-0.32],[-1.07,-0.35],[-1.04,-0.40],[-1.01,-0.33],[-0.98,-0.35],[-0.94,-0.32]];
const mnOut = [[-2.00,0.18],[-1.91,-0.18],[-1.89,0.06],[-1.89,-0.24],[-1.87,-0.21],[-1.81,0.27],[-1.74,0.34],[-1.62,0.41],[-1.57,0.08],[-1.57,-0.02],[-1.51,0.16],[-1.43,-0.08],[-1.41,-0.31],[-1.41,-0.58],[-1.33,-0.54],[-1.23,-0.63],[-1.17,-0.31],[-0.92,-0.19],[-0.79,-0.04],[-1.80,-0.05],[-1.70,0.05],[-1.65,-0.10],[-1.55,-0.40],[-1.45,-0.25],[-1.75,-0.30],[-1.60,0.02],[-1.38,-0.35],[-1.50,-0.45],[-1.68,-0.45],[-1.85,-0.10]];
const mnStar = [[-1.95,0.30],[-1.84,0.07],[-1.83,-0.14],[-1.83,-0.16],[-1.82,-0.27],[-1.79,0.09],[-1.79,-0.01],[-1.78,0.04],[-1.77,-0.37],[-1.76,-0.26],[-1.76,-0.18],[-1.75,-0.14],[-1.73,-0.21],[-1.72,-0.39],[-1.71,-0.01],[-1.71,-0.13],[-1.70,-0.24],[-1.70,-0.36],[-1.69,-0.08],[-1.69,-0.43],[-1.68,-0.41],[-1.67,0.14],[-1.66,-0.32],[-1.66,-0.26],[-1.65,-0.03],[-1.65,0.01],[-1.64,-0.19],[-1.64,-0.29],[-1.64,-0.27],[-1.64,-0.12],[-1.62,-0.39],[-1.61,-0.45],[-1.61,-0.34],[-1.61,-0.21],[-1.60,-0.23],[-1.60,-0.49],[-1.59,-0.12],[-1.59,-0.29],[-1.59,-0.41],[-1.58,-0.50],[-1.58,-0.26],[-1.57,-0.36],[-1.57,-0.21],[-1.56,-0.43],[-1.56,-0.29],[-1.51,-0.18],[-1.47,-0.35],[-1.47,-0.56],[-1.45,-0.66],[-1.68,-0.29],[-1.62,-0.22],[-1.72,-0.29],[-1.57,-0.32],[-1.61,-0.32],[-1.66,-0.37]];
const mnOdd = [[-1.81,-0.19],[-1.72,-0.39],[-1.71,-0.24],[-1.70,-0.33],[-1.69,-0.40],[-1.60,-0.16],[-1.60,-0.25],[-1.58,0.66],[-1.52,0.44]];

// ---------------------------------------------------------------------------
const FONT = '"Liberation Sans", Arial, sans-serif';
const INK = '#262626';
const GREY = '#7a7a7a';
const PINK = '#ff1493';
const ORANGE = '#ff9320';
const X_RANGE = [-2.135, -0.488];
const PAD_TOP = 14, PAD_RIGHT = 26, X_AXIS_H = 43;

const panels = [
    { name: '[Mg/Fe]', ref: mgRef, out: mgOut, star: mgStar, odd: mgOdd, ticks: mgTicks, dec: 1, yMin: -0.498, yMax: 0.925, box: [58, 3, 380, 252], yw: 58, corner: 'ul' },
    { name: '[Si/Fe]', ref: siRef, out: siOut, star: siStar, odd: siOdd, ticks: siTicks, dec: 1, yMin: -0.383, yMax: 0.657, box: [453, 3, 775, 252], yw: 56, corner: 'lr' },
    { name: '[Ca/Fe]', ref: caRef, out: caOut, star: caStar, odd: caOdd, ticks: caTicks, dec: 1, yMin: -0.523, yMax: 0.748, box: [853, 3, 1176, 252], yw: 56, corner: 'lr' },
    { name: '[C/Fe]', ref: cRef, out: cOut, star: cStar, odd: cOdd, ticks: cTicks, dec: 1, yMin: -1.128, yMax: 0.93, box: [61, 313, 379, 566], yw: 61, corner: 'lr' },
    { name: '[Al/Fe]', ref: alRef, out: alOut, star: alStar, odd: alOdd, ticks: alTicks, dec: 1, yMin: -0.751, yMax: 1.552, box: [455, 314, 779, 566], yw: 59, corner: 'lr' },
    { name: '[K/Fe]', ref: kRef, out: kOut, star: kStar, odd: kOdd, ticks: kTicks, dec: 2, yMin: -0.888, yMax: 1.106, box: [864, 314, 1182, 566], yw: 66, corner: 'lr' },
    { name: '[Mn/Fe]', ref: mnRef, out: mnOut, star: mnStar, odd: mnOdd, ticks: mnTicks, dec: 2, yMin: -1.06, yMax: 0.832, box: [471, 627, 780, 875], yw: 66, corner: 'ur' }
];

function fmt(v, d) {
    const s = Math.abs(v).toFixed(d);
    return (v < -1e-9 ? '\u2212' : '') + s;
}

function starImage(fill, stroke, r) {
    const c = document.createElement('canvas');
    const s = Math.ceil(2 * r + 4);
    c.width = c.height = s;
    const g = c.getContext('2d');
    g.beginPath();
    for (let i = 0; i < 10; i++) {
        const rad = i % 2 ? r * 0.42 : r;
        const ang = -Math.PI / 2 + i * Math.PI / 5;
        g.lineTo(s / 2 + rad * Math.cos(ang), s / 2 + rad * Math.sin(ang));
    }
    g.closePath();
    if (fill) { g.fillStyle = fill; g.fill(); }
    g.strokeStyle = stroke;
    g.lineWidth = 1;
    g.stroke();
    return c;
}

const pinkStar = starImage(PINK, PINK, 4.6);
const openStar = starImage(null, ORANGE, 4.4);

function toXY(arr) { return arr.map(p => ({ x: p[0], y: p[1] })); }

// frame on all four sides + matplotlib-like legend inside the axes
const frameLegend = {
    id: 'frameLegend',
    afterDatasetsDraw(chart, args, opts) {
        const { ctx, chartArea: a } = chart;
        ctx.save();
        ctx.strokeStyle = INK;
        ctx.lineWidth = 1.1;
        ctx.strokeRect(a.left, a.top, a.right - a.left, a.bottom - a.top);

        ctx.font = '11px ' + FONT;
        const widths = seriesNames.map(t => ctx.measureText(t).width);
        const w = 36 + Math.max(...widths) + 5;
        const h = 66;
        let x0, y0;
        if (opts.corner === 'ul') { x0 = a.left + 6; y0 = a.top + 5; }
        else if (opts.corner === 'ur') { x0 = a.right - 8 - w; y0 = a.top + 8; }
        else { x0 = a.right - 5 - w; y0 = a.bottom - 6 - h; }

        const r = 3;
        ctx.beginPath();
        ctx.moveTo(x0 + r, y0);
        ctx.lineTo(x0 + w - r, y0);
        ctx.arcTo(x0 + w, y0, x0 + w, y0 + r, r);
        ctx.lineTo(x0 + w, y0 + h - r);
        ctx.arcTo(x0 + w, y0 + h, x0 + w - r, y0 + h, r);
        ctx.lineTo(x0 + r, y0 + h);
        ctx.arcTo(x0, y0 + h, x0, y0 + h - r, r);
        ctx.lineTo(x0, y0 + r);
        ctx.arcTo(x0, y0, x0 + r, y0, r);
        ctx.closePath();
        ctx.fillStyle = 'rgba(255,255,255,0.8)';
        ctx.fill();
        ctx.strokeStyle = '#cccccc';
        ctx.lineWidth = 1;
        ctx.stroke();

        ctx.textBaseline = 'middle';
        ctx.textAlign = 'left';
        seriesNames.forEach((t, i) => {
            const cy = y0 + 8.8 + i * 15.8;
            const mx = x0 + 11;
            if (i === 0) {
                ctx.beginPath(); ctx.arc(mx, cy, 1.6, 0, Math.PI * 2);
                ctx.fillStyle = GREY; ctx.fill();
            } else if (i === 1) {
                ctx.beginPath(); ctx.arc(mx, cy, 2.4, 0, Math.PI * 2);
                ctx.strokeStyle = GREY; ctx.lineWidth = 0.9; ctx.stroke();
            } else {
                const img = i === 2 ? pinkStar : openStar;
                ctx.drawImage(img, mx - img.width / 2, cy - img.height / 2);
            }
            ctx.fillStyle = INK;
            ctx.fillText(t, x0 + 35, cy + 0.5);
        });
        ctx.restore();
    }
};

function makePanel(p) {
    const [l, t, r, b] = p.box;
    const W = (r - l) + p.yw + PAD_RIGHT;
    const H = (b - t) + PAD_TOP + X_AXIS_H;
    const div = document.createElement('div');
    div.className = 'panel';
    div.style.left = (l - p.yw) + 'px';
    div.style.top = (t - PAD_TOP) + 'px';
    div.style.width = W + 'px';
    div.style.height = H + 'px';
    const cv = document.createElement('canvas');
    cv.width = W; cv.height = H;
    div.appendChild(cv);
    document.body.appendChild(div);

    new Chart(cv, {
        type: 'scatter',
        data: {
            datasets: [
                { label: seriesNames[0], data: toXY(p.ref), order: 4, pointStyle: 'circle', pointRadius: 1.6, borderWidth: 0, backgroundColor: GREY, borderColor: GREY },
                { label: seriesNames[1], data: toXY(p.out), order: 3, pointStyle: 'circle', pointRadius: 2.4, borderWidth: 0.9, backgroundColor: 'rgba(0,0,0,0)', borderColor: GREY },
                { label: seriesNames[2], data: toXY(p.star), order: 2, pointStyle: pinkStar, pointRadius: 4.6, backgroundColor: PINK, borderColor: PINK },
                { label: seriesNames[3], data: toXY(p.odd), order: 1, pointStyle: openStar, pointRadius: 4.4, backgroundColor: ORANGE, borderColor: ORANGE }
            ]
        },
        options: {
            responsive: false,
            animation: false,
            events: [],
            layout: { padding: { top: PAD_TOP, right: PAD_RIGHT, left: 0, bottom: 0 } },
            plugins: {
                legend: { display: false },
                tooltip: { enabled: false },
                frameLegend: { corner: p.corner }
            },
            scales: {
                x: {
                    type: 'linear',
                    min: X_RANGE[0],
                    max: X_RANGE[1],
                    afterFit: s => { s.height = X_AXIS_H; },
                    afterBuildTicks: s => { s.ticks = feTicks.map(v => ({ value: v })); },
                    ticks: { autoSkip: false, maxRotation: 0, padding: 3, color: INK, font: { family: FONT, size: 14 }, callback: v => fmt(v, 2) },
                    grid: { display: true, drawOnChartArea: false, drawTicks: true, tickLength: 4, tickColor: INK, tickWidth: 1, color: INK },
                    border: { display: false },
                    title: { display: true, text: '[Fe/H]', color: INK, font: { family: FONT, size: 16.5 }, padding: { top: 0, bottom: 0 } }
                },
                y: {
                    type: 'linear',
                    min: p.yMin,
                    max: p.yMax,
                    afterFit: s => { s.width = p.yw; },
                    afterBuildTicks: s => { s.ticks = p.ticks.map(v => ({ value: v })); },
                    ticks: { autoSkip: false, padding: 4, color: INK, font: { family: FONT, size: 14 }, callback: v => fmt(v, p.dec) },
                    grid: { display: true, drawOnChartArea: false, drawTicks: true, tickLength: 4, tickColor: INK, tickWidth: 1, color: INK },
                    border: { display: false },
                    title: { display: true, text: p.name, color: INK, font: { family: FONT, size: 16.5 }, padding: { top: 0, bottom: 0 } }
                }
            }
        },
        plugins: [frameLegend]
    });
}

panels.forEach(makePanel);
</script>
</body>
</html>
